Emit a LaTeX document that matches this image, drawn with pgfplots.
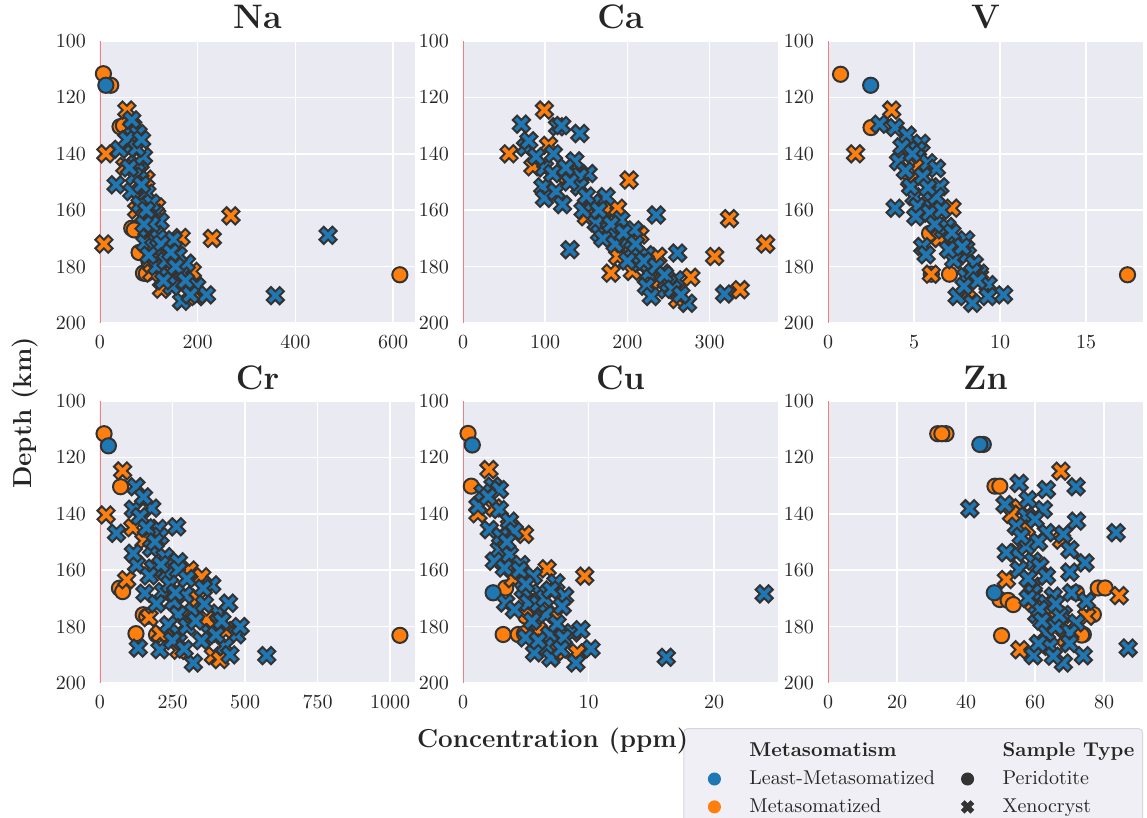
\documentclass[border=0pt]{standalone}
\usepackage{pgfplots}
\pgfplotsset{compat=1.18}
\definecolor{sbbg}{HTML}{EAEAF2}
\definecolor{sbblue}{HTML}{1F77B4}
\definecolor{sborange}{HTML}{FF7F0E}
\definecolor{sbedge}{HTML}{333333}
\definecolor{sbtext}{HTML}{262626}
\definecolor{sbred}{HTML}{F08080}
\definecolor{legbg}{HTML}{EFEFF5}
\definecolor{legedge}{HTML}{D6D6DE}

% filled X marker (matplotlib 'X')
\pgfdeclareplotmark{xf}{%
  \pgfpathmoveto{\pgfpoint{-0.5\pgfplotmarksize}{-1\pgfplotmarksize}}%
  \pgfpathlineto{\pgfpoint{0pt}{-0.5\pgfplotmarksize}}%
  \pgfpathlineto{\pgfpoint{0.5\pgfplotmarksize}{-1\pgfplotmarksize}}%
  \pgfpathlineto{\pgfpoint{1\pgfplotmarksize}{-0.5\pgfplotmarksize}}%
  \pgfpathlineto{\pgfpoint{0.5\pgfplotmarksize}{0pt}}%
  \pgfpathlineto{\pgfpoint{1\pgfplotmarksize}{0.5\pgfplotmarksize}}%
  \pgfpathlineto{\pgfpoint{0.5\pgfplotmarksize}{1\pgfplotmarksize}}%
  \pgfpathlineto{\pgfpoint{0pt}{0.5\pgfplotmarksize}}%
  \pgfpathlineto{\pgfpoint{-0.5\pgfplotmarksize}{1\pgfplotmarksize}}%
  \pgfpathlineto{\pgfpoint{-1\pgfplotmarksize}{0.5\pgfplotmarksize}}%
  \pgfpathlineto{\pgfpoint{-0.5\pgfplotmarksize}{0pt}}%
  \pgfpathlineto{\pgfpoint{-1\pgfplotmarksize}{-0.5\pgfplotmarksize}}%
  \pgfpathclose
  \pgfusepathqfillstroke
}

\pgfplotsset{
  panel/.style={
    scale only axis, width=157.5pt, height=141pt, anchor=north west,
    ymin=100, ymax=200, y dir=reverse, ytick={100,120,...,200}, xmin=0,
    axis background/.style={fill=sbbg},
    axis line style={draw=none},
    grid=major, major grid style={white, line width=0.75pt},
    major tick length=0pt,
    tick label style={font=\fontsize{10.3}{12}\selectfont, text=sbtext},
    yticklabel style={xshift=-3.5pt},
    xticklabel style={yshift=-3pt},
    /pgf/number format/1000 sep={},
    scaled x ticks=false,
    title style={font=\fontsize{17}{20}\selectfont\bfseries, text=sbtext,
      at={(0.5,1)}, anchor=base, yshift=0pt},
  },
  zero/.style={forget plot, sbred, line width=1.2pt},
  oc/.style={forget plot, only marks, mark=*, mark size=3.8pt,
    mark options={fill=sborange, draw=sbedge, line width=1pt}},
  bc/.style={forget plot, only marks, mark=*, mark size=3.8pt,
    mark options={fill=sbblue, draw=sbedge, line width=1pt}},
  ox/.style={forget plot, only marks, mark=xf, mark size=4.3pt,
    mark options={fill=sborange, draw=sbedge, line width=1pt}},
  bx/.style={forget plot, only marks, mark=xf, mark size=4.3pt,
    mark options={fill=sbblue, draw=sbedge, line width=1pt}},
}

\begin{document}
\begin{tikzpicture}
\useasboundingbox (0,0) rectangle (573.5pt,-409pt);

% ---------- Na ----------
\begin{axis}[panel, at={(50pt,-20.5pt)}, title={Na}, xmax=645, xtick={0,200,400,600}]
\addplot[zero] coordinates {(0,100) (0,200)};
\addplot[oc] coordinates {(7,111.6) (22,115.7) (41,130.4) (48,130) (65,166.4) (70,167)
  (89,182.3) (95,182.5) (614,182.9) (80,175) (100,178)};
\addplot[bc] coordinates {(12,115.7)};
\addplot[ox] coordinates {(55,124.5) (12,140) (94,149) (268,162) (230,170) (166,169.7)
  (8,172) (106,182.3) (126,188) (198,190.6) (189,181.7) (51,144.5) (116,158.8)
  (137,179.7) (188,189) (75,160) (150,175) (110,175) (160,184) (85,156)};
\addplot[bx] coordinates {(67,130.4) (63,137.5) (40,138.4) (33,151) (65,153.4) (82,146.3)
  (75,143.4) (96,154) (82,158) (113,161) (96,167) (92,171.7) (123,175.2) (143,177.6)
  (167,182.3) (198,187) (167,192.3) (218,190) (359,190.3) (467,168.9) (147,187)
  (116,168) (137,172.9) (177,178.8) (78,132.8) (65,128) (89,141) (106,157.5)
  (123,164) (150,170.5) (116,180) (140,183.5) (55,135) (70,148) (100,163) (110,173)
  (130,185) (160,176) (85,151) (75,138) (85,135) (95,160) (105,165) (120,170)
  (135,178) (155,180) (175,185) (185,190) (125,172) (145,175) (100,176) (60,145)
  (90,165)};
\end{axis}

% ---------- Ca ----------
\begin{axis}[panel, at={(231.5pt,-20.5pt)}, title={Ca}, xmax=383, xtick={0,100,200,300}]
\addplot[zero] coordinates {(0,100) (0,200)};
\addplot[ox] coordinates {(99,124.5) (104,137) (56,140) (126,147.5) (202,149.3)
  (185,161.7) (174,159.3) (188,159.3) (215,168.8) (188,176.4) (180,182.3) (206,181.7)
  (237,176.4) (277,183.8) (306,176.4) (324,163) (368,172) (337,188.2) (261,191.7)
  (85,144.6) (150,162.3) (240,185)};
\addplot[bx] coordinates {(71,129.5) (115,130.4) (142,132.8) (76,137.7) (80,135.4)
  (136,142.5) (152,147) (99,145) (97,151.7) (99,155.8) (113,153.4) (142,148)
  (142,151.7) (121,158) (146,160) (162,164.6) (166,168.2) (178,167) (198,171.7)
  (192,163.4) (208,167) (223,175.8) (235,161.7) (261,175.2) (130,174) (225,182.3)
  (223,187) (229,190.6) (243,182.3) (259,184.7) (273,193) (318,189.7) (247,188.2)
  (174,155.2) (158,157.5) (109,147) (89,141) (206,174) (215,178.8) (120,130)
  (130,150) (170,170) (185,172) (200,178) (250,186) (110,140) (125,145) (150,155)
  (165,160) (180,165) (195,168) (210,172) (220,178) (235,180) (245,183) (255,188)
  (265,190)};
\end{axis}

% ---------- V ----------
\begin{axis}[panel, at={(414pt,-20.5pt)}, title={V}, xmax=18.3, xtick={0,5,10,15}]
\addplot[zero] coordinates {(0,100) (0,200)};
\addplot[oc] coordinates {(0.73,111.8) (2.5,130.7) (6.0,182.7) (7.06,182.7) (17.4,182.9)
  (5.9,168.2)};
\addplot[bc] coordinates {(2.48,115.7)};
\addplot[ox] coordinates {(3.7,124.5) (1.6,140) (4.74,149.3) (7.2,159.3) (7.5,176)
  (8.1,188.2) (6.0,182.7) (5.3,143.4) (8.8,183.5) (6.5,170)};
\addplot[bx] coordinates {(3.0,129.5) (3.9,130.7) (4.6,133.4) (5.4,136.3) (4.3,137.5)
  (5.2,138.7) (4.1,142.8) (5.8,143.2) (6.3,145.2) (3.9,159.3) (5.0,155.2) (5.2,158.7)
  (6.0,156.4) (5.9,161) (5.1,162.3) (6.7,167) (7.4,171.7) (8.1,175.8) (5.5,172.9)
  (5.7,175.8) (8.0,183.5) (8.8,182.3) (9.3,186.4) (10.2,190) (7.5,190.6) (8.4,193)
  (9.3,190.6) (6.9,165.8) (8.0,170.5) (6.5,151.7) (4.8,151.7) (6.3,155.2) (7.3,177.6)
  (4.5,146) (6.2,165) (7.0,174) (8.5,179) (4.9,140) (5.5,148) (5.8,152) (6.6,160)
  (7.2,168) (7.8,173) (8.4,182) (8.7,185) (7.9,187)};
\end{axis}

% ---------- Cr ----------
\begin{axis}[panel, at={(50pt,-200.5pt)}, title={Cr}, xmax=1086, xtick={0,250,500,750,1000}]
\addplot[zero] coordinates {(0,100) (0,200)};
\addplot[oc] coordinates {(14,111.6) (71,130.4) (67,166.4) (78,167.6) (124,182.5)
  (195,182.9) (1034,183.1) (149,175.8) (161,176.4)};
\addplot[bc] coordinates {(29,115.9)};
\addplot[ox] coordinates {(78,124.8) (21,140.4) (113,144.9) (152,149.6) (92,163.4)
  (308,159.9) (351,162.3) (337,169.9) (169,176.8) (207,182.5) (272,188.4) (391,190.3)
  (434,181.4) (414,191.7) (368,177.6)};
\addplot[bx] coordinates {(124,130.4) (115,138.4) (178,138) (264,144.6) (201,145.2)
  (57,146.9) (138,141) (178,152.2) (224,155.2) (270,157) (126,158.1) (184,159.3)
  (230,161) (270,159.9) (385,165.2) (155,168.2) (218,167.6) (195,171.9) (253,171.1)
  (293,168.8) (322,174.6) (270,175.8) (408,175.2) (443,171.7) (236,179.4) (270,182.3)
  (379,182.3) (471,182.9) (431,187) (448,190) (322,192.9) (207,188.2) (132,187.6)
  (575,190.3) (356,166.4) (115,154) (207,148) (483,180) (150,134) (240,165) (300,180)
  (350,185) (160,145) (190,150) (210,158) (260,168) (300,163) (330,178) (360,172)
  (400,183) (420,178) (250,185) (290,188) (170,162)};
\end{axis}

% ---------- Cu ----------
\begin{axis}[panel, at={(231.5pt,-200.5pt)}, title={Cu}, xmax=25.1, xtick={0,10,20}]
\addplot[zero] coordinates {(0,100) (0,200)};
\addplot[oc] coordinates {(0.4,111.5) (0.66,130.2) (3.2,182.8) (4.4,182.8) (4.9,182.5)
  (3.4,166.3) (5.0,176.3)};
\addplot[bc] coordinates {(0.74,115.6) (2.4,168)};
\addplot[ox] coordinates {(2.07,124.3) (1.19,140) (2.5,137.9) (3.2,149.1) (4.9,147.3)
  (6.7,159.5) (9.7,162.1) (7.4,175.7) (6.0,181.3) (9.1,189.3) (7.4,188.8) (3.7,144.4)
  (4.0,163)};
\addplot[bx] coordinates {(2.4,130.2) (2.9,131.4) (1.2,137.3) (2.9,138.5) (3.7,142.6)
  (2.1,145.6) (2.9,152.7) (4.1,146.2) (3.7,154.4) (2.5,156.8) (3.3,159.2) (4.6,158)
  (5.6,162.1) (7.4,164.5) (8.1,169.2) (6.1,168) (4.8,166.9) (3.4,171.6) (5.2,171.6)
  (4.1,174) (6.6,175.7) (6.9,182.8) (8.7,182.2) (9.4,181.1) (10.2,187.9) (6.6,187)
  (5.7,189.3) (7.0,191.1) (9.0,192.9) (16.2,190.9) (24.0,168.4) (1.6,132.5)
  (7.9,172.8) (5.5,178) (7.5,179) (2.0,134) (3.0,148) (3.5,150) (4.5,160) (5.0,165)
  (6.0,172) (6.5,170) (7.0,167) (8.0,184) (7.8,188) (5.0,184) (6.0,185)};
\end{axis}

% ---------- Zn ----------
\begin{axis}[panel, at={(414pt,-200.5pt)}, title={Zn}, xmax=91.3, xtick={0,20,...,80},
  legend columns=2, legend cell align=left,
  legend image code/.code={\path (-0.16cm,0cm);
    \draw[mark repeat=2,mark phase=2,#1] plot coordinates {(0cm,0cm) (0.3cm,0cm) (0.6cm,0cm)};},
  legend style={at={(1,-0.16)}, anchor=north east, fill=legbg, draw=legedge,
    line width=0.5pt, rounded corners=2pt, font=\fontsize{10}{12}\selectfont,
    text=sbtext, inner xsep=2pt, inner ysep=5pt, row sep=1.5pt,
    /tikz/every odd column/.append style={column sep=12.5pt},
    /tikz/column 2/.append style={column sep=1pt}}]
\addplot[zero] coordinates {(0,100) (0,200)};
\addplot[oc] coordinates {(31.8,111.6) (34.2,111.6) (33,111.6) (48.4,130.2) (49.8,130.2)
  (50.3,183.2) (49.8,170.4) (52.2,170.7) (53.7,172.2) (78.3,166.3) (80.3,166.3)
  (76.9,175.7) (74,182.8) (72,168) (65.3,177.5) (73.5,183)};
\addplot[bc] coordinates {(45,115.4) (44,115.4) (48.2,168)};
\addplot[ox] coordinates {(67.5,124.9) (55.6,137.9) (53.2,140.2) (57.5,145) (67.7,149.3)
  (51.7,163.3) (84.4,169) (75,176.3) (68.7,184) (55.6,188.2) (65.3,178.7) (59.5,171.6)};
\addplot[bx] coordinates {(41.1,138.2) (55.4,129.2) (63.3,131.4) (71.9,130.4) (62.4,138.5)
  (51.3,136.7) (57.5,140.8) (72,142.6) (54.6,144.4) (63.3,146.7) (83.5,146.7)
  (68.2,147.3) (70.1,152.7) (54.6,153.8) (59.5,156.8) (61.4,158.6) (55.4,159.8)
  (74.5,157.4) (70.1,160.7) (59.5,165.7) (63.3,162.1) (59.5,168) (65.3,169.2)
  (70.6,168) (74.9,171) (63.3,171.8) (60.5,175.7) (68.2,175.7) (72,178.7) (63.3,182.2)
  (70.1,182.2) (64.3,187) (59.5,190.3) (68.2,192.9) (74,190.3) (65.3,190.5) (87,187.6)
  (51.7,153.8) (57.5,151.5) (61.4,173.9) (66,180) (58,163) (58,135) (60,142) (56,148)
  (61,150) (58,170) (62,178) (67,176) (70,186) (61,186) (66,172)};
\addlegendimage{empty legend}\addlegendentry{\textbf{Metasomatism}}
\addlegendimage{empty legend}\addlegendentry{\textbf{Sample Type}}
\addlegendimage{only marks, mark=*, mark size=3pt, color=sbblue}\addlegendentry{Least-Metasomatized}
\addlegendimage{only marks, mark=*, mark size=3pt, color=sbedge}\addlegendentry{Peridotite}
\addlegendimage{only marks, mark=*, mark size=3pt, color=sborange}\addlegendentry{Metasomatized}
\addlegendimage{only marks, mark=xf, mark size=3pt, color=sbedge}\addlegendentry{Xenocryst}
\end{axis}

\node[rotate=90, anchor=base, font=\fontsize{13}{15}\selectfont\bfseries, text=sbtext]
  at (16pt,-206.5pt) {Depth (km)};
\node[anchor=base, font=\fontsize{13}{15}\selectfont\bfseries, text=sbtext]
  at (276.3pt,-373.5pt) {Concentration (ppm)};
\end{tikzpicture}
\end{document}
